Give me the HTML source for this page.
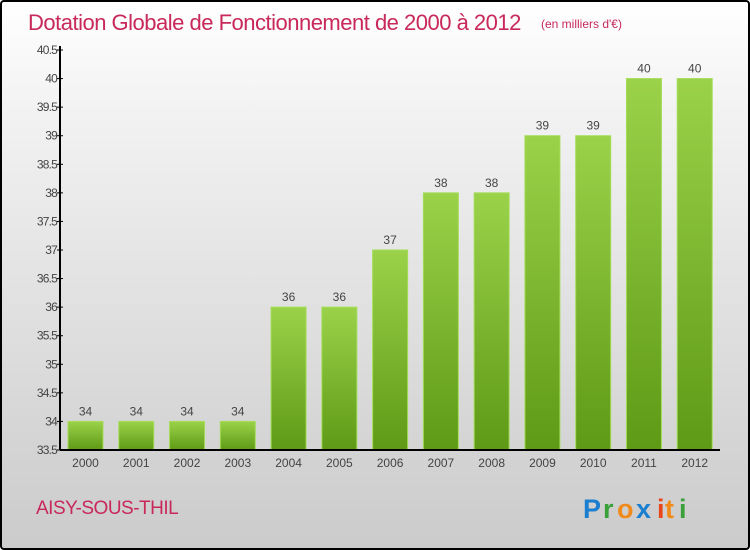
<!DOCTYPE html>
<html><head><meta charset="utf-8"><style>
body{margin:0;width:750px;height:550px;overflow:hidden;font-family:"Liberation Sans",sans-serif}
#frame{position:absolute;left:0;top:0;width:746px;height:546px;border:2px solid #000;border-radius:4px;background:linear-gradient(#fff,#f2f2f2 20%,#cbcbcb)}
</style></head><body>
<div id="frame"></div>
<svg id="chart" width="750" height="550" style="position:absolute;left:0;top:0">
<defs><linearGradient id="g" x1="0" y1="0" x2="0" y2="1"><stop offset="0" stop-color="#9bd24a"/><stop offset="1" stop-color="#5e9a16"/></linearGradient></defs>
<text x="28" y="30" font-size="22" fill="#c8285a" style="letter-spacing:-0.5px">Dotation Globale de Fonctionnement de 2000 à 2012</text>
<text x="541" y="28" font-size="12" fill="#c8285a">(en milliers d'€)</text>
<text x="36" y="514" font-size="19" fill="#c8285a" style="letter-spacing:-0.5px">AISY-SOUS-THIL</text>
<g font-size="27" font-weight="bold" font-family="'Liberation Sans',sans-serif">
<text x="583" y="518" fill="#1a7fd0">P</text><text x="603" y="518" fill="#3aa13a">r</text><text x="617" y="518" fill="#f08a1a">o</text><text x="636" y="518" fill="#1a7fd0">x</text><text x="657" y="518" fill="#e8451a">i</text><text x="665" y="518" fill="#f08a1a">t</text><text x="679" y="518" fill="#3aa13a">i</text>
</g>
<g id="bars"></g><g id="axes"></g>
</svg>
<script>
const categories=["2000","2001","2002","2003","2004","2005","2006","2007","2008","2009","2010","2011","2012"];
const values=[34,34,34,34,36,36,37,38,38,39,39,40,40];
const yTicks=[33.5,34,34.5,35,35.5,36,36.5,37,37.5,38,38.5,39,39.5,40,40.5];
const NS="http://www.w3.org/2000/svg";
const x0=60,x1=720,y0=450,y1=50,ymin=33.5,ymax=40.5;
const band=(x1-x0)/categories.length;
const yS=v=>y0-(v-ymin)/(ymax-ymin)*(y0-y1);
const xS=i=>x0+i*band;
function mk(t,a,p){const e=document.createElementNS(NS,t);for(const k in a)e.setAttribute(k,a[k]);p.appendChild(e);return e;}
const bars=document.getElementById('bars'),axes=document.getElementById('axes');
values.forEach((v,i)=>{
 const x=xS(i)+8,w=35,y=yS(v);
 const r=mk('rect',{x:x,y:y,width:w,height:y0-y,fill:'url(#g)',stroke:'#a5dc5a','stroke-width':1},bars);
 
 
 const t=mk('text',{x:x+w/2,y:y-6,'text-anchor':'middle','font-size':12,fill:'#444'},bars);t.textContent=v;
 
 
 const c=mk('text',{x:x+w/2,y:y0+17,'text-anchor':'middle','font-size':12,fill:'#444'},axes);c.textContent=categories[i];
 
 
});
const ya=mk('line',{x1:x0,y1:y1-4,x2:x0,y2:y0,stroke:'#000','stroke-width':2},axes);


const xa=mk('line',{x1:x0,y1:y0,x2:x1,y2:y0,stroke:'#000','stroke-width':2},axes);


yTicks.forEach(v=>{
 const y=yS(v);
 mk('line',{x1:x0-3,y1:y,x2:x0+3,y2:y,stroke:'#000','stroke-width':1},axes);
 const t=mk('text',{x:x0-3,y:y+4,'text-anchor':'end','font-size':12,fill:'#444','letter-spacing':'-0.8'},axes);t.textContent=v;
 
 
});
</script>
</body></html>
